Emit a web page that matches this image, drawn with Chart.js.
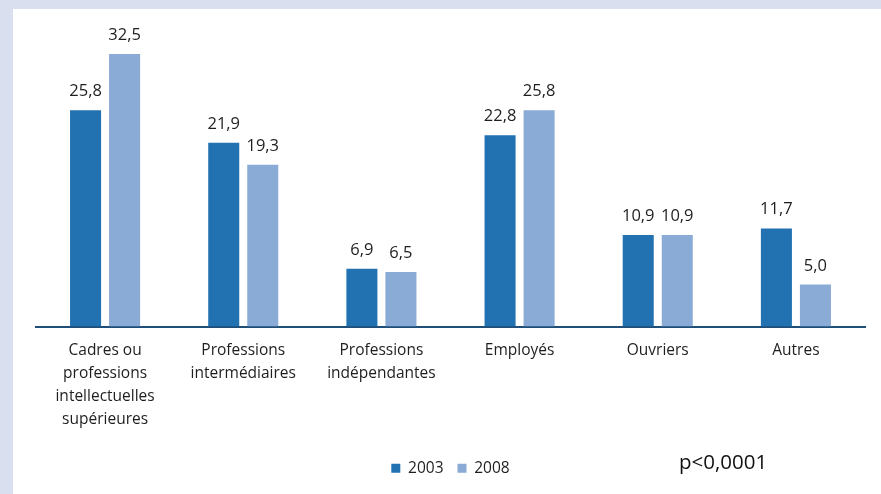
<!DOCTYPE html>
<html>
<head>
<meta charset="utf-8">
<script src="https://cdn.jsdelivr.net/npm/chart.js@4"></script>
<style>
  html, body { margin: 0; padding: 0; }
  body { width: 881px; height: 494px; background: #d9dfef; overflow: hidden; position: relative; }
  #panel { position: absolute; left: 13px; top: 9px; width: 868px; height: 485px; background: #fff; }
  #pval { position: absolute; left: 666px; top: 438px; font: 20.5px 'Open Sans', sans-serif; color: #111; }
</style>
</head>
<body>
<div id="panel">
  <canvas id="myChart" width="868" height="485"></canvas>
  <div id="pval">p&lt;0,0001</div>
</div>
<script>
// ==========================================
// Data
// ==========================================

const labels = [
   ["Cadres ou", "professions", "intellectuelles", "supérieures"],
   ["Professions", "intermédiaires"],
   ["Professions", "indépendantes"],
   "Employés",
   "Ouvriers",
   "Autres"
];
const seriesNames = ["2003", "2008"];
const values2003 = [25.8, 21.9, 6.9, 22.8, 10.9, 11.7];
const values2008 = [32.5, 19.3, 6.5, 25.8, 10.9, 5.0];

const colors = ["#2271b1", "#8aabd5"];
const font = "'Open Sans', sans-serif";

// value labels above the bars
const barValues = {
   id: "barValues",
   afterDatasetsDraw(chart) {
      const c = chart.ctx;
      c.save();
      c.font = "16.5px " + font;
      c.fillStyle = "#1e1e1e";
      c.textAlign = "center";
      c.textBaseline = "alphabetic";
      chart.data.datasets.forEach((ds, i) => {
         chart.getDatasetMeta(i).data.forEach((bar, j) => {
            c.fillText(ds.data[j].toFixed(1).replace(".", ","), bar.x, bar.y - 14);
         });
      });
      c.restore();
   }
};

const ctx = document.getElementById("myChart");

let chart = new Chart(ctx, {
   type: "bar",
   data: {
      labels: labels,
      datasets: [
         { label: seriesNames[0], data: values2003, backgroundColor: colors[0] },
         { label: seriesNames[1], data: values2008, backgroundColor: colors[1] }
      ]
   },
   options: {
      responsive: false,
      animation: false,
      categoryPercentage: 0.565,
      barPercentage: 0.795,
      layout: { padding: { left: 23, right: 16, top: 24, bottom: 8 } },
      plugins: {
         legend: {
            position: "bottom",
            labels: {
               boxWidth: 9,
               boxHeight: 9,
               padding: 14,
               color: "#1e1e1e",
               font: { family: font, size: 15.5 }
            }
         },
         tooltip: { enabled: false }
      },
      scales: {
         x: {
            grid: { display: false, drawTicks: false },
            border: { display: true, color: "#1f4e79", width: 2 },
            ticks: {
               color: "#1e1e1e",
               padding: 13,
               maxRotation: 0,
               autoSkip: false,
               font: { family: font, size: 15.5, lineHeight: 1.48 }
            },
            afterFit(scale) { scale.height = 120; }
         },
         y: {
            display: false,
            min: 0,
            max: 35
         }
      }
   },
   plugins: [barValues]
});
</script>
</body>
</html>
